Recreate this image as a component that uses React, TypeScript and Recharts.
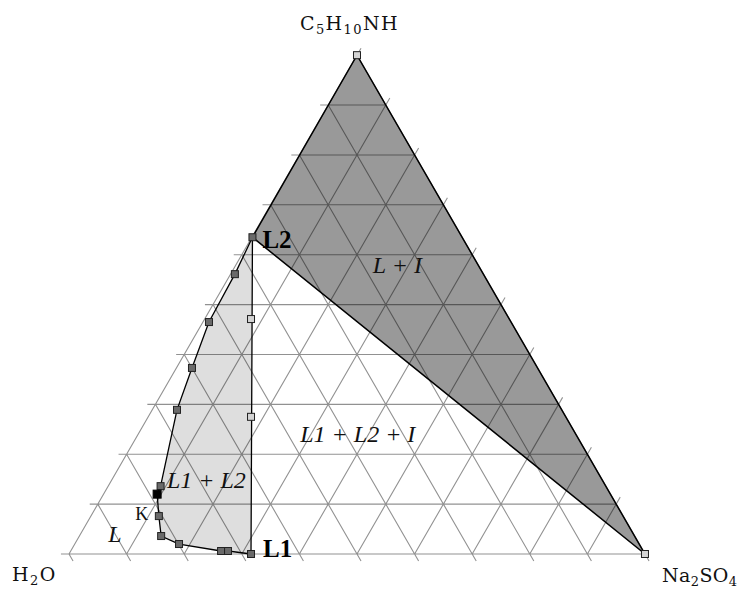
import React from 'react';
import { ScatterChart, Scatter, XAxis, YAxis } from 'recharts';

// compositions in wt% : C5H10NH and Na2SO4, water is the rest
// binodal curve, from L1 (water rich) up to L2 (amine rich)
const binodalC5 = [0, 0.6, 0.6, 2.0, 3.6, 7.6, 12.0, 13.6, 28.9, 37.3, 46.5, 56.1, 63.5];
const binodalNa = [31.6, 27.3, 26.1, 18.1, 14.2, 11.8, 9.3, 9.1, 4.3, 2.7, 1.05, 0.75, 0.1];
const criticalIndex = 6; // K

// points on the three-phase tie line L2 - L1
const tieC5 = [47.1, 27.5];
const tieNa = [8.05, 17.85];

const gridSteps = [0, 10, 20, 30, 40, 50, 60, 70, 80, 90, 100];

const vertexNames = ['H2O', 'Na2SO4', 'C5H10NH'];
const vertexC5 = [0, 0, 100];
const vertexNa = [0, 100, 0];

const regionNames = ['L + I', 'L1 + L2 + I', 'L1 + L2', 'L'];
const regionC5 = [56.3, 22.5, 13.2, 2.4];
const regionNa = [24.6, 28.9, 10.4, 5.6];

const SQ3 = Math.sqrt(3) / 2;
const toXY = (c5: number, na: number) => ({ x: na + c5 / 2, y: c5 * SQ3 });

const binodal = binodalC5.map((c, i) => toXY(c, binodalNa[i]));
const L1 = binodal[0];
const L2 = binodal[binodal.length - 1];
const top = toXY(100, 0);
const salt = toXY(0, 100);

const darkPoly = [L2, top, salt, L2];
const lightPoly = [...binodal, L1];
const tiePoints = tieC5.map((c, i) => toXY(c, tieNa[i]));

// grid segments as pairs of points, with short ticks outside the triangle
const TICK = 1.4;
const gridSegs: { x: number; y: number }[] = [];
gridSteps.forEach((v) => {
  if (v < 100) {
    const a = toXY(v, 0);
    const b = toXY(v, 100 - v);
    gridSegs.push({ x: a.x - TICK, y: a.y }, b);
    const c = toXY(0, v);
    const d = toXY(100 - v, v);
    gridSegs.push(c, { x: d.x + TICK * 0.5, y: d.y + TICK * SQ3 });
  }
  const e = toXY(100 - v, 0);
  const f = toXY(0, 100 - v);
  gridSegs.push(e, { x: f.x + TICK * 0.5, y: f.y - TICK * SQ3 });
});

const labelData = [
  ...vertexNames.map((t, i) => ({ ...toXY(vertexC5[i], vertexNa[i]), text: t, kind: 'vertex' })),
  ...regionNames.map((t, i) => ({ ...toXY(regionC5[i], regionNa[i]), text: t, kind: 'region' })),
  { ...binodal[criticalIndex], text: 'K', kind: 'point' },
  { ...L1, text: 'L1', kind: 'bold' },
  { ...L2, text: 'L2', kind: 'bold' },
];

const offsets: Record<string, [number, number]> = {
  H2O: [-57, 27],
  Na2SO4: [17, 28],
  C5H10NH: [-57, -25],
  K: [-22, 26],
  L1: [12, 3],
  L2: [10, 11],
};
const spacing: Record<string, number> = { H2O: 1.4, Na2SO4: 0.4, C5H10NH: 1.4 };

const SERIF = '"Liberation Serif", "Times New Roman", serif';
const WIDE_SERIF = '"DejaVu Serif", serif';

const Formula = ({ text }: { text: string }) => {
  const parts = text.split(/(\d+)/).filter((s) => s.length);
  let sub = false;
  return (
    <>
      {parts.map((s, i) => {
        const isNum = /^\d+$/.test(s);
        const dy = isNum ? 4 : sub ? -4 : 0;
        sub = isNum;
        return (
          <tspan key={i} dy={dy} fontSize={isNum ? 13 : 19}>
            {s}
          </tspan>
        );
      })}
    </>
  );
};

const renderLabel = (p: any) => {
  const d = p.payload;
  const [dx, dy] = offsets[d.text] || [0, 0];
  const x = p.cx + dx;
  const y = p.cy + dy;
  if (d.kind === 'vertex') {
    return (
      <text x={x} y={y} fontFamily={WIDE_SERIF} fontSize={19} letterSpacing={spacing[d.text]} fill="#111">
        <Formula text={d.text} />
      </text>
    );
  }
  if (d.kind === 'bold') {
    return (
      <text x={x} y={y} fontFamily={SERIF} fontSize={25} fontWeight="bold" fill="#000">
        {d.text}
      </text>
    );
  }
  if (d.kind === 'point') {
    return (
      <text x={x} y={y} fontFamily={SERIF} fontSize={18} fill="#111">
        {d.text}
      </text>
    );
  }
  return (
    <text x={x} y={y} fontFamily={SERIF} fontSize={24} fontStyle="italic" fill="#111" xmlSpace="preserve">
      {d.text}
    </text>
  );
};

const square = (fill: string, size: number, stroke = '#222') => (p: any) => (
  <rect
    x={p.cx - size / 2}
    y={p.cy - size / 2}
    width={size}
    height={size}
    fill={fill}
    stroke={stroke}
    strokeWidth={1}
  />
);

const none = () => <g />;

const segmentsLine = (p: any) => {
  const pts = p.points || [];
  let d = '';
  for (let i = 0; i + 1 < pts.length; i += 2) {
    d += `M${pts[i].x},${pts[i].y}L${pts[i + 1].x},${pts[i + 1].y}`;
  }
  return <path d={d} fill="none" stroke="#000" strokeOpacity={0.43} strokeWidth={1.1} />;
};

export default function App() {
  return (
    <div style={{ position: 'absolute', left: 0, top: 0, width: 741, height: 590, background: '#ffffff' }}>
      <ScatterChart width={741} height={590} margin={{ top: 0, right: 0, bottom: 0, left: 0 }}>
        <XAxis type="number" dataKey="x" domain={[-11.98, 116.67]} hide allowDataOverflow />
        <YAxis type="number" dataKey="y" domain={[-6.25, 96.18]} hide allowDataOverflow />

        {/* L + I region */}
        <Scatter
          data={darkPoly}
          shape={none}
          line={{ fill: 'rgba(0,0,0,0.4)', stroke: '#000', strokeWidth: 1.5 }}
          isAnimationActive={false}
        />
        {/* L1 + L2 region */}
        <Scatter
          data={lightPoly}
          shape={none}
          line={{ fill: 'rgba(0,0,0,0.13)', stroke: '#000', strokeWidth: 1.3 }}
          isAnimationActive={false}
        />
        {/* grid */}
        <Scatter data={gridSegs} shape={none} line={segmentsLine} isAnimationActive={false} />

        <Scatter data={[top, salt]} shape={square('#d4d4d4', 7)} isAnimationActive={false} />
        <Scatter data={tiePoints} shape={square('#d4d4d4', 7)} isAnimationActive={false} />
        <Scatter
          data={binodal.filter((_, i) => i !== criticalIndex)}
          shape={square('#6a6a6a', 7)}
          isAnimationActive={false}
        />
        <Scatter data={[binodal[criticalIndex]]} shape={square('#000', 8, '#000')} isAnimationActive={false} />

        <Scatter data={labelData} shape={renderLabel} isAnimationActive={false} />
      </ScatterChart>
    </div>
  );
}
